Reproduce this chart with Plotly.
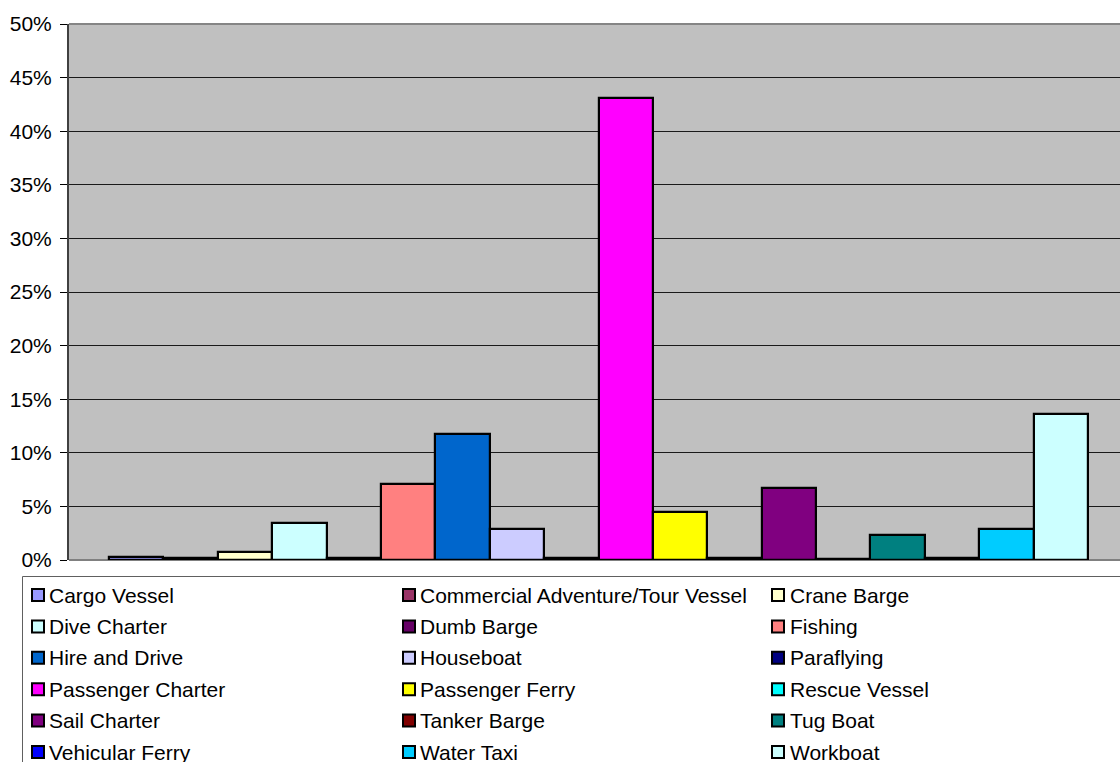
import plotly.graph_objects as go

# Share of registered vessels by type
vessel_types = [
    "Cargo Vessel", "Commercial Adventure/Tour Vessel", "Crane Barge",
    "Dive Charter", "Dumb Barge", "Fishing",
    "Hire and Drive", "Houseboat", "Paraflying",
    "Passenger Charter", "Passenger Ferry", "Rescue Vessel",
    "Sail Charter", "Tanker Barge", "Tug Boat",
    "Vehicular Ferry", "Water Taxi", "Workboat",
]
shares = [
    0.0025, 0.0015, 0.0077,
    0.0342, 0.0015, 0.0709,
    0.1175, 0.0286, 0.0015,
    0.4310, 0.0445, 0.0015,
    0.0672, 0.0005, 0.0233,
    0.0015, 0.0286, 0.1360,
]
colors = [
    "#9999FF", "#993366", "#FFFFCC",
    "#CCFFFF", "#660066", "#FF8080",
    "#0066CC", "#CCCCFF", "#000080",
    "#FF00FF", "#FFFF00", "#00FFFF",
    "#800080", "#800000", "#008080",
    "#0000FF", "#00CCFF", "#CCFFFF",
]
y_ticks = [0, 0.05, 0.10, 0.15, 0.20, 0.25, 0.30, 0.35, 0.40, 0.45, 0.50]

W, H = 1120, 762
L, R, T, B = 69, 0, 24, 202
PW, PH = W - L - R, H - T - B
FONT = "Liberation Sans, Arial, sans-serif"
FS = 21


def px_x(px):
    return (px - L) / PW


def px_y(py):
    return (H - B - py) / PH


fig = go.Figure()
for i, (name, val, col) in enumerate(zip(vessel_types, shares, colors)):
    fig.add_trace(go.Bar(
        x=[i], y=[val], width=1.0, name=name,
        marker=dict(color=col, line=dict(color="#000000", width=2.2)),
        showlegend=False,
    ))

shapes = []
annotations = []

# plot frame: top and bottom in grey
shapes.append(dict(type="line", xref="paper", yref="paper", x0=0, x1=1.02, y0=1, y1=1,
                   line=dict(color="#858585", width=2), layer="above"))
shapes.append(dict(type="line", xref="paper", yref="paper", x0=0, x1=1.02, y0=0, y1=0,
                   line=dict(color="#808080", width=2), layer="below"))

# legend box
shapes.append(dict(type="rect", xref="paper", yref="paper",
                   x0=px_x(22.5), x1=px_x(1130), y0=px_y(576.5), y1=px_y(770),
                   line=dict(color="#606060", width=1), fillcolor="#FFFFFF"))

col_marker_x = [31, 402, 771]
col_text_x = [48, 419, 789]
row_y0, row_step, box = 595, 31.4, 14
for k, (name, col) in enumerate(zip(vessel_types, colors)):
    r, c = divmod(k, 3)
    cy = row_y0 + r * row_step
    mx = col_marker_x[c]
    shapes.append(dict(type="rect", xref="paper", yref="paper",
                       x0=px_x(mx + 1), x1=px_x(mx + box - 1),
                       y0=px_y(cy - box / 2 + 1), y1=px_y(cy + box / 2 - 1),
                       line=dict(color="#000000", width=2), fillcolor=col))
    annotations.append(dict(xref="paper", yref="paper", x=px_x(col_text_x[c]), y=px_y(cy),
                            text=name, showarrow=False, xanchor="left", yanchor="middle",
                            font=dict(family=FONT, size=FS, color="#000000"),
                            borderpad=0))

fig.update_layout(
    width=W, height=H, autosize=False,
    margin=dict(l=L, r=R, t=T, b=B, pad=0),
    paper_bgcolor="#FFFFFF", plot_bgcolor="#C0C0C0",
    barmode="overlay", bargap=0,
    font=dict(family=FONT, size=FS, color="#000000"),
    shapes=shapes, annotations=annotations,
    xaxis=dict(range=[-1.2354, 18.088], showticklabels=False, showgrid=False,
               zeroline=False, showline=False, ticks="", fixedrange=True),
    yaxis=dict(range=[0, 0.5], tickvals=y_ticks, tickformat=".0%",
               showgrid=True, gridcolor="#1A1A1A", gridwidth=1,
               zeroline=False, showline=True, linecolor="#404040", linewidth=2,
               ticks="outside", ticklen=7, tickwidth=1, tickcolor="#000000",
               ticklabelstandoff=4,
               tickfont=dict(family=FONT, size=FS, color="#000000")),
)

fig.write_html("out.html")
